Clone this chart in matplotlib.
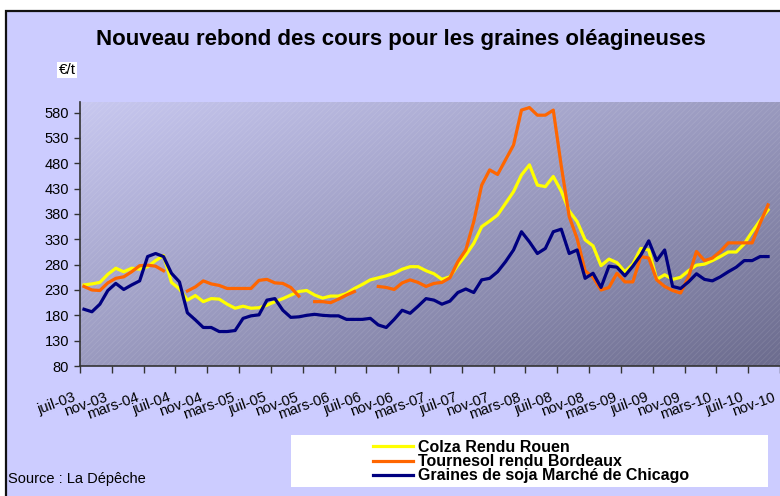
import numpy as np
import matplotlib
matplotlib.use('Agg')
import matplotlib.pyplot as plt
import matplotlib.transforms as mtransforms
from matplotlib.patches import Rectangle

plt.rcParams['font.family'] = ['Liberation Sans', 'DejaVu Sans']
plt.rcParams['hatch.linewidth'] = 0.6

nan = np.nan

# tick labels, every 4 months
mois = ['juil-03', 'nov-03', 'mars-04', 'juil-04', 'nov-04', 'mars-05', 'juil-05',
        'nov-05', 'mars-06', 'juil-06', 'nov-06', 'mars-07', 'juil-07', 'nov-07',
        'mars-08', 'juil-08', 'nov-08', 'mars-09', 'juil-09', 'nov-09', 'mars-10',
        'juil-10', 'nov-10']

# monthly prices in euro/t, juil-03 -> sept-10
colza = [240, 242, 245, 261, 273, 266, 273, 271, 276, 288,
         298, 245, 232, 210, 219, 207, 213, 212, 202, 194,
         198, 194, 195, 200, 207, 213, 220, 227, 229, 220,
         214, 218, 218, 223, 233, 241, 250, 254, 258, 263,
         271, 276, 276, 268, 262, 251, 256, 279, 299, 322,
         355, 366, 378, 401, 424, 457, 477, 437, 434, 454,
         425, 386, 365, 329, 317, 278, 291, 284, 266, 281,
         312, 309, 251, 260, 251, 255, 268, 279, 281, 288,
         296, 305, 305, 321, 345, 367, 388]

tournesol = [237, 230, 229, 244, 253, 256, 266, 278, 279, 277,
             268, nan, nan, 228, 236, 248, 242, 239, 233, 233,
             233, 233, 249, 251, 244, 243, 235, 218, nan, 207,
             207, 205, 212, 220, 227, nan, nan, 237, 235, 231,
             244, 250, 245, 237, 243, 245, 254, 286, 309, 365,
             437, 467, 458, 487, 516, 585, 590, 575, 575, 585,
             475, 375, 331, 268, 255, 230, 235, 263, 246, 246,
             296, 293, 250, 237, 229, 224, 256, 306, 288, 293,
             306, 323, 323, 323, 323, 362, 398]

soja = [192, 187, 202, 229, 243, 231, 240, 248, 296, 302,
        296, 263, 246, 185, 171, 156, 156, 148, 148, 150,
        174, 179, 181, 210, 213, 190, 176, 177, 180, 182,
        180, 179, 179, 172, 172, 172, 174, 161, 156, 172,
        190, 184, 198, 213, 210, 202, 208, 225, 232, 225,
        250, 253, 266, 286, 309, 345, 325, 302, 312, 345,
        350, 302, 309, 253, 263, 235, 277, 275, 258, 277,
        299, 327, 288, 309, 237, 233, 246, 262, 251, 248,
        256, 266, 275, 288, 288, 296, 296]

series = [('Colza Rendu Rouen', colza, '#FFFF00'),
          ('Tournesol rendu Bordeaux', tournesol, '#FF6600'),
          ('Graines de soja Marché de Chicago', soja, '#000080')]

W, H = 780, 496
def fx(px):
    return px / W
def fy(py):
    return 1 - py / H

fig = plt.figure(figsize=(7.8, 4.96), dpi=100)
fig.patch.set_facecolor('white')

# chart area (cut off on the right and bottom, like the original)
fig.add_artist(Rectangle((fx(5.5), -0.1), 1.2, fy(10.5) + 0.1, transform=fig.transFigure,
                         facecolor='#CCCCFF', edgecolor='#111111', lw=1.6, zorder=-10))

ax = fig.add_axes([fx(80), fy(366), 1 - fx(80), (366 - 102) / H])
ax.set_facecolor('none')

n = len(colza)
x = np.arange(n) + 0.5
ax.set_xlim(0, 88)
ax.set_ylim(80, 601)

# gradient background of the plot area
gx, gy = np.meshgrid(np.linspace(0, 1, 400), np.linspace(0, 1, 200))
t = 0.5 * gx + 0.5 * gy
c0 = np.array([200, 200, 240]) / 255
c1 = np.array([108, 108, 142]) / 255
img = c0 + (c1 - c0) * t[..., None]
ax.imshow(img, extent=[0, 88, 80, 601], origin='upper', aspect='auto', zorder=0)
ax.add_patch(Rectangle((0, 80), 88, 521, facecolor='none', edgecolor=(1, 1, 1, 0.10),
                       hatch='//////', lw=0, zorder=0.5))

for label, vals, col in series:
    ax.plot(x, vals, color=col, lw=2.3, label=label, solid_joinstyle='round', zorder=2)

ax.set_yticks(range(80, 581, 50))
ax.set_xticks(np.arange(0, 89, 4))
ax.set_xticklabels(mois, rotation=20, ha='right', va='center', rotation_mode='anchor')
ax.tick_params(axis='y', direction='out', length=4, width=1, color='#333333',
               labelsize=10.5, pad=4)
ax.tick_params(axis='x', direction='out', length=5, width=1, color='#333333',
               labelsize=10.5, pad=17)
# labels end a little left of their tick, as in the original
shift = mtransforms.ScaledTranslation(-5 / 100, 0, fig.dpi_scale_trans)
for lab in ax.get_xticklabels():
    lab.set_transform(lab.get_transform() + shift)
for s in ['top', 'right']:
    ax.spines[s].set_visible(False)
for s in ['left', 'bottom']:
    ax.spines[s].set_color('#333333')
    ax.spines[s].set_linewidth(1.2)

fig.text(fx(401), fy(40), 'Nouveau rebond des cours pour les graines oléagineuses',
         ha='center', va='center', fontsize=16, weight='bold')
fig.text(fx(67), fy(70), '€/t', ha='center', va='center', fontsize=11,
         bbox=dict(facecolor='white', edgecolor='none', pad=1))
fig.text(fx(8), fy(479), 'Source : La Dépêche', ha='left', va='center', fontsize=10.5)

# legend on a white box
fig.add_artist(Rectangle((fx(291), fy(487)), fx(768) - fx(291), (487 - 435) / H,
                         transform=fig.transFigure, facecolor='white', edgecolor='none'))
fig.legend(loc='upper left', bbox_to_anchor=(fx(373), fy(440)), frameon=False,
           prop=dict(weight='bold', size=11.5), handlelength=2.5, handletextpad=0.3,
           labelspacing=-0.05, borderpad=0, borderaxespad=0)

fig.savefig('out.png', dpi=100, facecolor=fig.get_facecolor())
